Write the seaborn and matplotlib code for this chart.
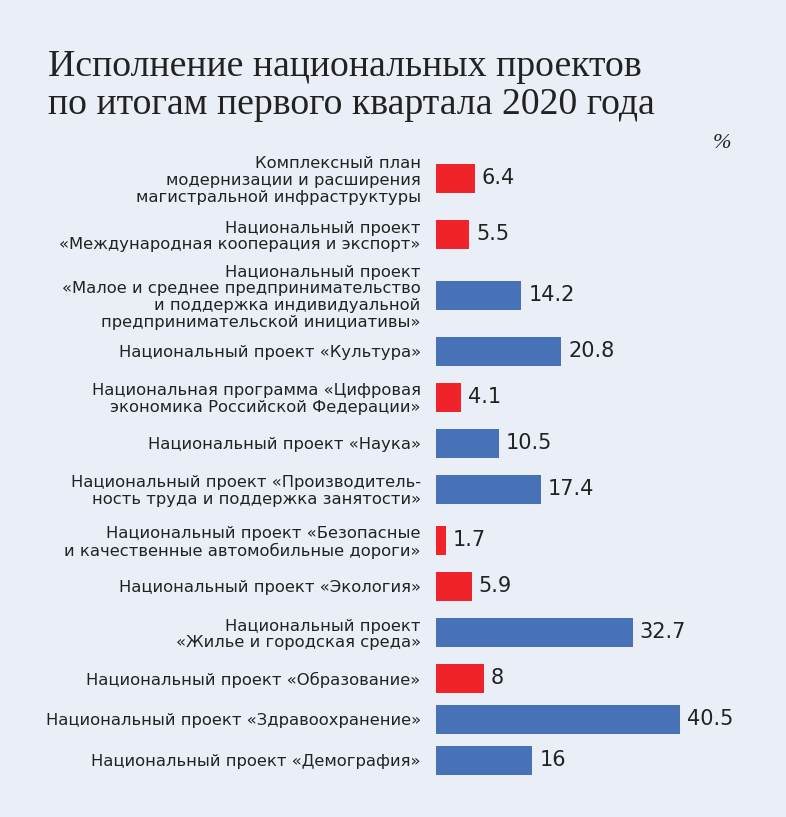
import matplotlib
matplotlib.use("Agg")
import matplotlib.pyplot as plt
import seaborn as sns
import pandas as pd
import numpy as np

categories = [
    "Комплексный план\nмодернизации и расширения\nмагистральной инфраструктуры",
    "Национальный проект\n«Международная кооперация и экспорт»",
    "Национальный проект\n«Малое и среднее предпринимательство\nи поддержка индивидуальной\nпредпринимательской инициативы»",
    "Национальный проект «Культура»",
    "Национальная программа «Цифровая\nэкономика Российской Федерации»",
    "Национальный проект «Наука»",
    "Национальный проект «Производитель-\nность труда и поддержка занятости»",
    "Национальный проект «Безопасные\nи качественные автомобильные дороги»",
    "Национальный проект «Экология»",
    "Национальный проект\n«Жилье и городская среда»",
    "Национальный проект «Образование»",
    "Национальный проект «Здравоохранение»",
    "Национальный проект «Демография»",
]
values = [6.4, 5.5, 14.2, 20.8, 4.1, 10.5, 17.4, 1.7, 5.9, 32.7, 8, 40.5, 16]
value_labels = ["6.4", "5.5", "14.2", "20.8", "4.1", "10.5", "17.4", "1.7", "5.9", "32.7", "8", "40.5", "16"]
status = ["low", "low", "high", "high", "low", "high", "high", "low", "low", "high", "low", "high", "high"]

title = "Исполнение национальных проектов\nпо итогам первого квартала 2020 года"
unit = "%"

RED = "#f0222a"
BLUE = "#4872b8"
BG = "#eaeff7"
TXT = "#222222"

# row spacing derived from number of label lines
nlines = [c.count("\n") + 1 for c in categories]
pos = [0.0]
for i in range(1, len(categories)):
    pos.append(pos[-1] + 31 + 10 * (nlines[i - 1] + nlines[i]) / 2)

df = pd.DataFrame({"value": values, "pos": pos, "status": status})

sns.set_theme(style="white")
plt.rcParams["font.family"] = ["DejaVu Sans"]

W, H = 786, 817
fig = plt.figure(figsize=(W / 100, H / 100), dpi=100, facecolor=BG)
ax_left, ax_right, ax_top, ax_bot = 436, 786, 150, 790
ax = fig.add_axes([ax_left / W, 1 - ax_bot / H, (ax_right - ax_left) / W, (ax_bot - ax_top) / H])
ax.set_facecolor(BG)

sns.barplot(data=df, x="value", y="pos", hue="status", palette={"low": RED, "high": BLUE},
            orient="y", native_scale=True, width=29 / 41, dodge=False, legend=False,
            saturation=1, ax=ax, linewidth=0)

px_per_unit = 6.02
ax.set_xlim(0, (ax_right - ax_left) / px_per_unit)
ax.set_ylim(ax_bot - 178, ax_top - 178)

ax.set_yticks(pos)
ax.set_yticklabels(categories, fontsize=11.8, color=TXT, linespacing=1.16)
ax.tick_params(axis="y", length=0, pad=11)
ax.set_xticks([])
ax.set_xlabel("")
ax.set_ylabel("")
for s in ax.spines.values():
    s.set_visible(False)

for v, p, lab in zip(values, pos, value_labels):
    ax.annotate(lab, (v, p), xytext=(5, 0), textcoords="offset points",
                va="center", ha="left", fontsize=15, color=TXT)

fig.text(48 / W, 1 - 50 / H, title, fontsize=27.2, family="Liberation Serif",
         color=TXT, va="top", ha="left", linespacing=1.12)
fig.text(722 / W, 1 - 143 / H, unit, fontsize=16, family="Liberation Serif",
         style="italic", color=TXT, va="center", ha="center")

fig.savefig("out.png", dpi=100, facecolor=BG)
